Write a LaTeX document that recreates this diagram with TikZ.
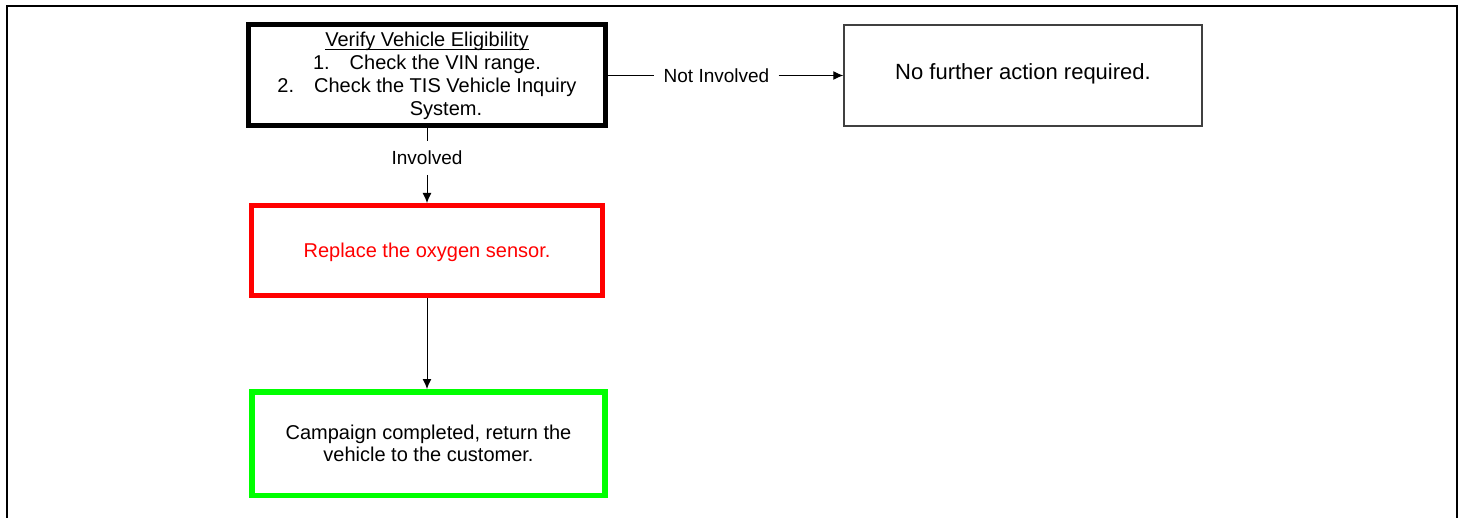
\documentclass[tikz,border=0pt]{standalone}
\usepackage{fontspec}
\setmainfont{Liberation Sans}
\usetikzlibrary{arrows.meta}
\definecolor{limegreen}{RGB}{0,255,0}
\def\drawframe{\draw[line width=1.25pt]}
\def\drawlink{\draw[line width=0.5pt]}
\def\drawflow{\draw[line width=0.5pt,-{Latex[length=5pt,width=4.5pt]}]}
\def\boxnode{\node[box]}
\def\lblnode{\node[lbl]}
\def\headline#1{\underline{\raisebox{0pt}[\height][0pt]{#1}}}

\begin{document}
\begin{tikzpicture}[x=0.5pt,y=-0.5pt,
  box/.style={draw,inner sep=0pt,align=center,font=\fontsize{10}{11.5}\selectfont},
  lbl/.style={inner xsep=4.5pt,inner ysep=4.8pt,font=\fontsize{9.5}{11}\selectfont}]
\useasboundingbox (0,0) rectangle (1465,518);
\drawframe (7,518) -- (7,6) -- (1457,6) -- (1457,518);
\boxnode[line width=2.5pt,minimum width=178.75pt,minimum height=50.5pt] (verify) at (427,75.5)
  {\headline{Verify Vehicle Eligibility}\\
   1.\hspace{10pt}Check the VIN range.\\
   2.\hspace{10pt}Check the TIS Vehicle Inquiry\\
   \hspace{19pt}System.};
\boxnode[draw=black!75,line width=0.75pt,minimum width=179pt,minimum height=50.5pt,
  text depth=4.3pt,font=\fontsize{11}{13}\selectfont] (further) at (1023,75.5)
  {No further action required.};
\boxnode[draw=red,text=red,line width=2.5pt,minimum width=175.5pt,minimum height=45pt,
  text depth=0.5pt] (replace) at (427,250.5) {Replace the oxygen sensor.};
\boxnode[draw=limegreen,line width=2.75pt,minimum width=176.5pt,minimum height=51.75pt,
  font=\fontsize{10}{11.25}\selectfont] (done) at (428.5,443.5)
  {Campaign completed, return the\\ vehicle to the customer.};
\lblnode (notinv) at (716.5,75.5) {Not Involved};
\lblnode (inv) at (427,158) {Involved};
\drawlink (verify) -- (notinv);
\drawflow (notinv) -- (further);
\drawlink (verify) -- (inv);
\drawflow (inv) -- (replace);
\drawflow (replace.south) -- (replace.south |- done.north);
\end{tikzpicture}
\end{document}
